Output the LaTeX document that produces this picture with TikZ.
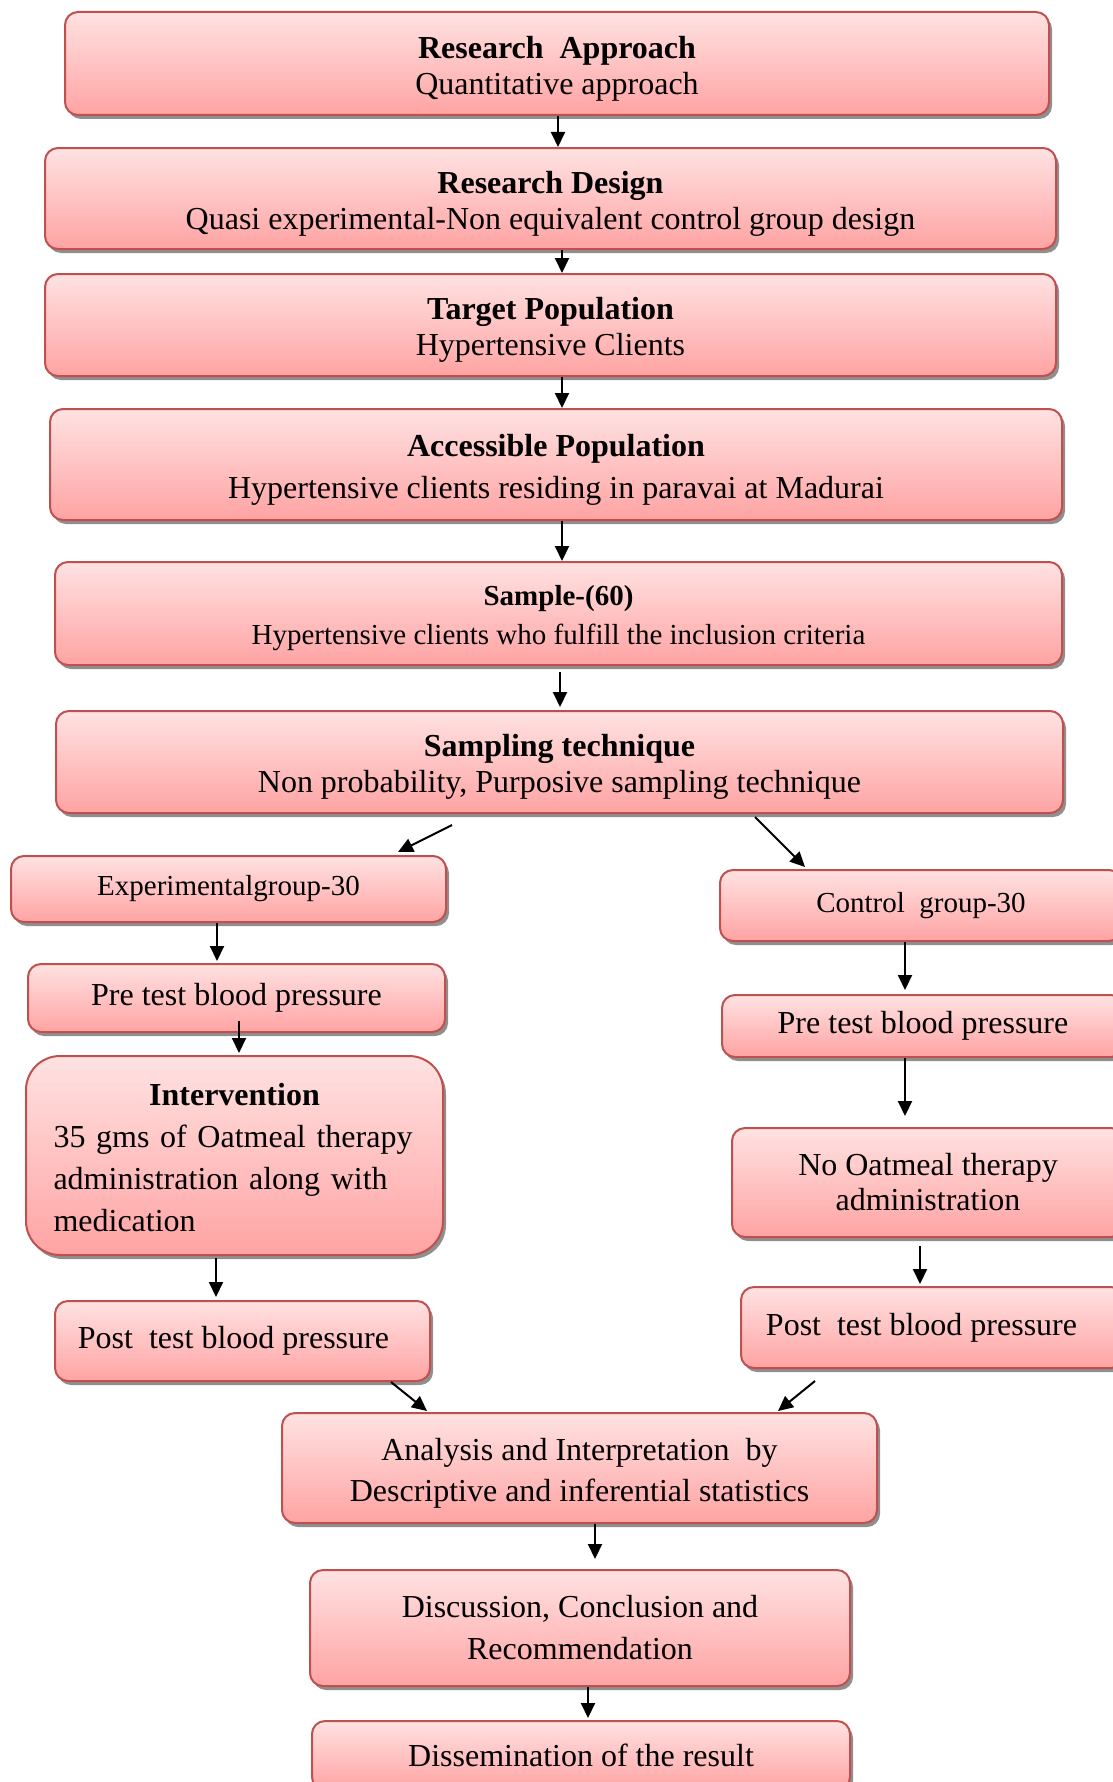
\documentclass[tikz,border=0pt]{standalone}
\usepackage{fontspec}
\setmainfont{Liberation Serif}
\usetikzlibrary{arrows.meta,shadows}
\definecolor{bord}{RGB}{192,80,77}
\definecolor{ftop}{RGB}{255,226,226}
\definecolor{fbot}{RGB}{255,163,163}
\newcommand{\topstrut}[1]{\rule{0pt}{#1}}
\tikzset{
  box/.style={draw=bord, line width=2pt, rounded corners=13pt,
    top color=ftop, bottom color=fbot,
    drop shadow={shadow xshift=3pt,shadow yshift=-4pt,fill=black!55,opacity=0.8},
    align=center, inner sep=0pt, text=black,
    font=\fontsize{32}{36}\selectfont},
  arr/.style={line width=2pt, -{Triangle[length=15pt,width=14pt]}}
}
\begin{document}
\begin{tikzpicture}[x=1pt,y=-1pt]
\useasboundingbox (0,0) rectangle (1113,1782);
\clip (0,0) rectangle (1113,1782);
\node[box, minimum width=984pt, minimum height=103pt] (ra) at (557,63.5)
  {\topstrut{32pt}\textbf{Research\ \ Approach}\\Quantitative approach};
\node[box, minimum width=1011pt, minimum height=101pt] (rd) at (550.5,198.5)
  {\topstrut{32pt}\textbf{Research Design}\\Quasi experimental-Non equivalent control group design};
\node[box, minimum width=1011pt, minimum height=102pt] (tp) at (550.5,325)
  {\topstrut{32pt}\textbf{Target Population}\\Hypertensive Clients};
\node[box, minimum width=1012pt, minimum height=111pt, font=\fontsize{32}{42}\selectfont] (ap) at (556,464.5)
  {\topstrut{32pt}\textbf{Accessible Population}\\Hypertensive clients residing in paravai at Madurai};
\node[box, minimum width=1007pt, minimum height=103pt, font=\fontsize{29}{39}\selectfont] (sm) at (558.5,613.5)
  {\topstrut{30pt}\textbf{Sample-(60)}\\Hypertensive clients who fulfill the inclusion criteria};
\node[box, minimum width=1007pt, minimum height=102pt] (st) at (559.5,762)
  {\topstrut{32pt}\textbf{Sampling technique}\\Non probability, Purposive sampling technique};
\node[box, minimum width=435pt, minimum height=66pt, font=\fontsize{29}{34}\selectfont] (eg) at (228.5,889)
  {Experimentalgroup-30};
\node[box, minimum width=402pt, minimum height=71pt, font=\fontsize{29}{34}\selectfont] (cg) at (921,905.5)
  {Control\ \ group-30};
\node[box, minimum width=417pt, minimum height=68pt] (pl) at (236.5,998)
  {Pre test blood pressure};
\node[box, minimum width=402pt, minimum height=62pt] (pr) at (923,1026)
  {Pre test blood pressure};
\node[box, minimum width=417pt, minimum height=199pt, rounded corners=34pt,
  text width=362pt, align=left, font=\fontsize{32}{42}\selectfont] (iv) at (234.5,1155.5)
  {\topstrut{26pt}\makebox[362pt]{\textbf{Intervention}}\\35 gms of Oatmeal therapy\\administration along with\\medication};
\node[box, minimum width=392pt, minimum height=109pt, font=\fontsize{32}{35}\selectfont] (no) at (928,1182.5)
  {No Oatmeal therapy\\administration};
\node[box, minimum width=375pt, minimum height=80pt] (ql) at (242.5,1341)
  {Post\ \ test blood pressure\hspace*{18pt}};
\node[box, minimum width=383pt, minimum height=81pt] (qr) at (932.5,1327.5)
  {Post\ \ test blood pressure\hspace*{22pt}};
\node[box, minimum width=595pt, minimum height=110pt, font=\fontsize{32}{41}\selectfont] (an) at (579.5,1468)
  {\topstrut{32pt}Analysis and Interpretation\ \ by\\Descriptive and inferential statistics};
\node[box, minimum width=540pt, minimum height=116pt, font=\fontsize{32}{42}\selectfont] (dc) at (580,1628)
  {Discussion, Conclusion and\\Recommendation};
\node[box, minimum width=538pt, minimum height=69pt] (ds) at (581,1755.5)
  {Dissemination of the result};
% connectors
\draw[arr] ([xshift=1pt]ra.south) -- ([xshift=7.5pt]rd.north);
\draw[arr] ([xshift=11.5pt]rd.south) -- ([xshift=11.5pt]tp.north);
\draw[arr] ([xshift=11.5pt]tp.south) -- ([xshift=6pt]ap.north);
\draw[arr] ([xshift=6pt]ap.south) -- ([xshift=3.5pt]sm.north);
\draw[arr] ([xshift=1.5pt,yshift=-6pt]sm.south) -- ([xshift=0.5pt,yshift=3pt]st.north);
\draw[arr] ([xshift=-107.5pt,yshift=-11pt]st.south) -- ([xshift=169.5pt,yshift=3pt]eg.north);
\draw[arr] ([xshift=195.5pt,yshift=-3pt]st.south) -- ([xshift=-116pt,yshift=2pt]cg.north);
\draw[arr] ([xshift=-11.5pt]eg.south) -- ([xshift=-19.5pt,yshift=2pt]pl.north);
\draw[arr] ([xshift=2.5pt,yshift=12pt]pl.south) -- ([xshift=4.5pt,yshift=2pt]iv.north);
\draw[arr] ([xshift=-18.5pt,yshift=-2pt]iv.south) -- ([xshift=-26.5pt,yshift=3pt]ql.north);
\draw[arr] ([xshift=-16pt]cg.south) -- ([xshift=-18pt,yshift=4pt]pr.north);
\draw[arr] ([xshift=-18pt]pr.south) -- ([xshift=-23pt,yshift=11pt]no.north);
\draw[arr] ([xshift=-8pt,yshift=-8pt]no.south) -- ([xshift=-12.5pt,yshift=2pt]qr.north);
\draw[arr] ([xshift=148.5pt]ql.south) -- ([xshift=-152.5pt,yshift=1pt]an.north);
\draw[arr] ([xshift=-117.5pt,yshift=-12pt]qr.south) -- ([xshift=198.5pt,yshift=1pt]an.north);
\draw[arr] ([xshift=15.5pt]an.south) -- ([xshift=15pt,yshift=10pt]dc.north);
\draw[arr] ([xshift=8pt]dc.south) -- ([xshift=7pt,yshift=2pt]ds.north);
\end{tikzpicture}
\end{document}
